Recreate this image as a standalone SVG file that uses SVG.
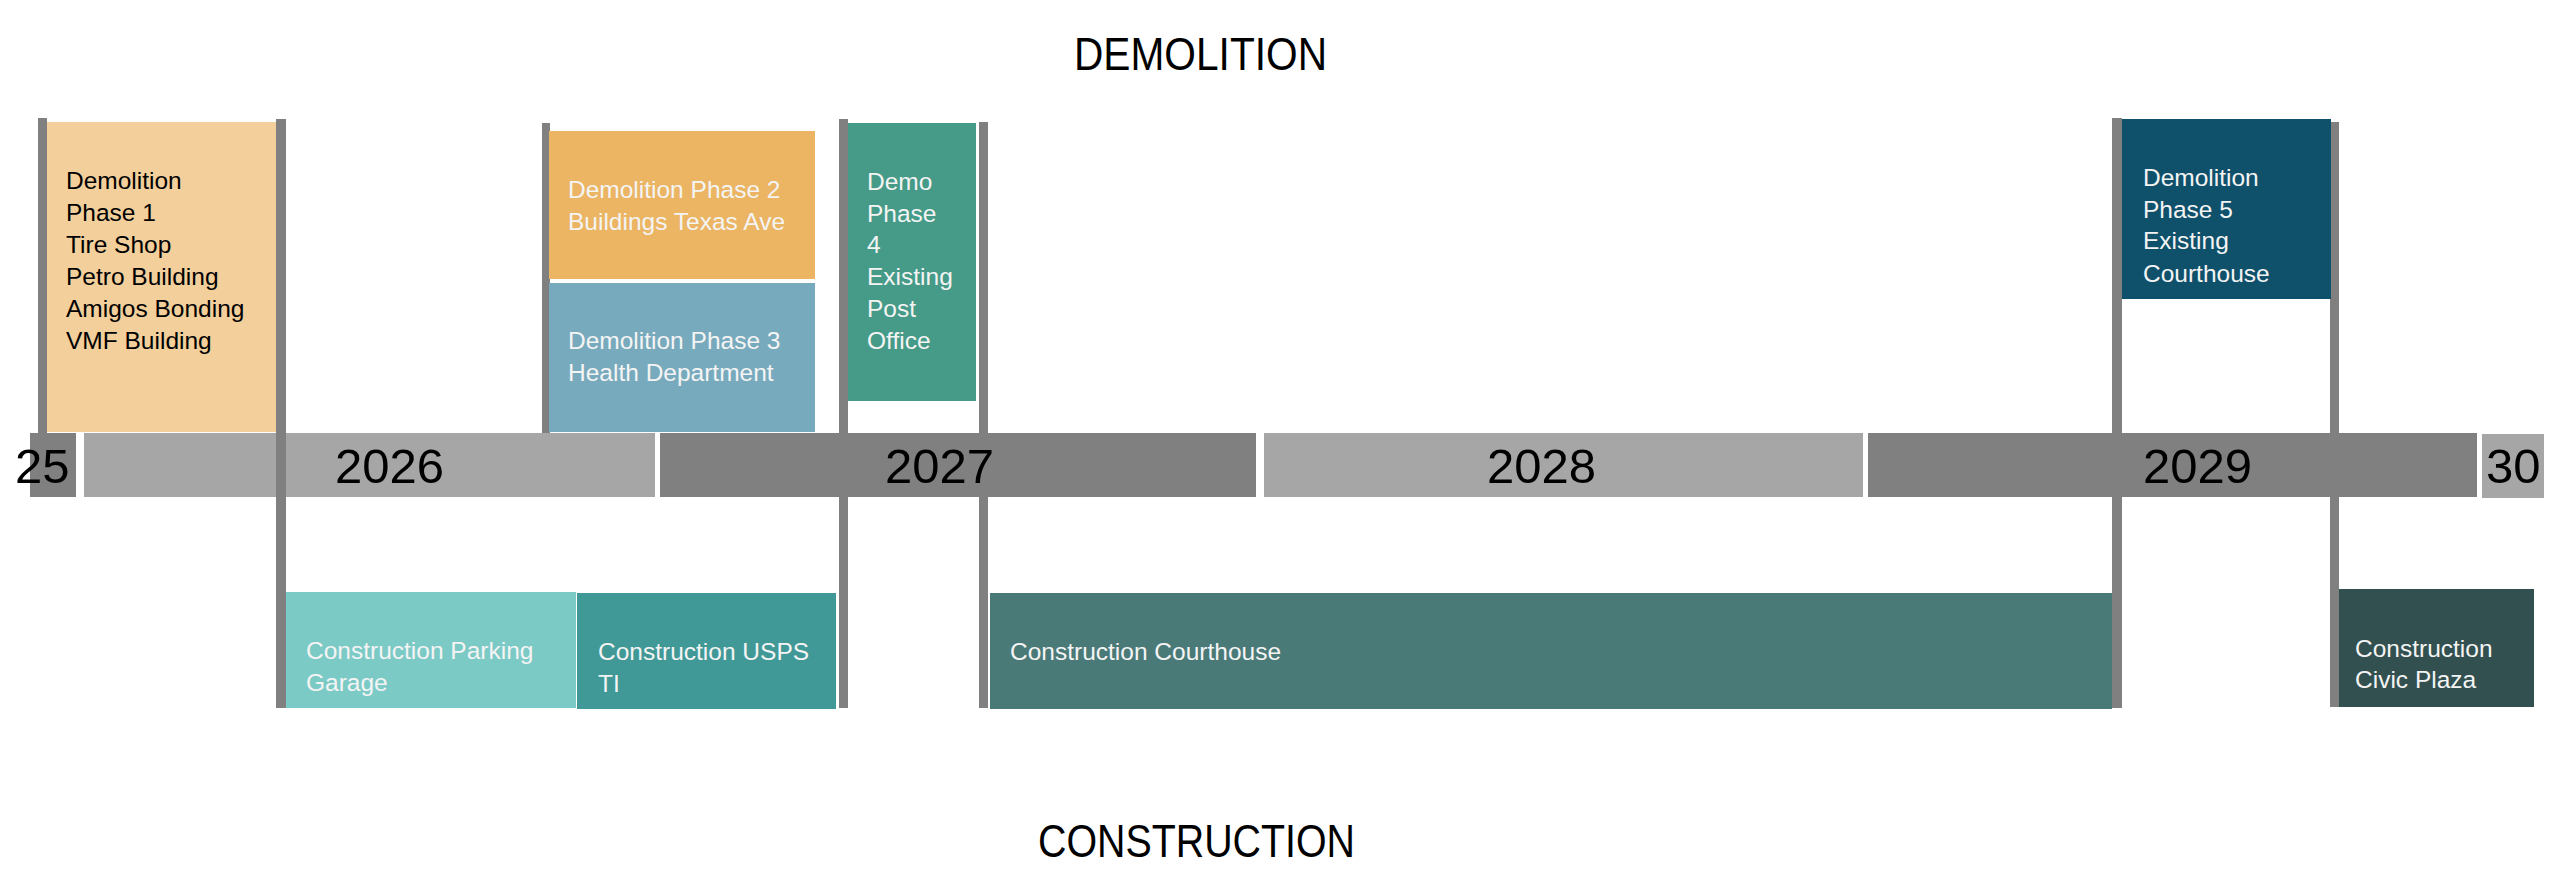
<svg xmlns="http://www.w3.org/2000/svg" width="2560" height="880" viewBox="0 0 2560 880">
<style>
text{font-family:"Liberation Sans",Arial,sans-serif}
.yr{font-size:49px;fill:#000}
.lbl{font-size:24.5px;fill:#F4F4F4}
.lblk{font-size:24.5px;fill:#000}
.ttl{font-size:46px;fill:#000}
.barL{fill:#A6A6A6}
.barD{fill:#808080}
.pole{fill:#808080}
</style>
<rect width="2560" height="880" fill="#fff"/>
<g id="title-demolition"><text class="ttl" x="1074" y="70" textLength="253" lengthAdjust="spacingAndGlyphs">DEMOLITION</text></g>
<g id="title-construction"><text class="ttl" x="1038" y="857" textLength="317" lengthAdjust="spacingAndGlyphs">CONSTRUCTION</text></g>

<g id="timeline-bars">
<rect class="barD" x="30" y="433" width="46" height="64"/>
<rect class="barL" x="84" y="433" width="571" height="64"/>
<rect class="barD" x="660" y="433" width="596" height="64"/>
<rect class="barL" x="1264" y="433" width="599" height="64"/>
<rect class="barD" x="1868" y="433" width="609" height="64"/>
<rect class="barL" x="2482" y="434" width="62" height="64"/>
</g>

<g id="connectors">
<rect class="pole" x="38" y="118" width="9" height="315"/>
<rect class="pole" x="276" y="119" width="10" height="589"/>
<rect class="pole" x="542" y="123" width="8" height="310"/>
<rect class="pole" x="839" y="119" width="9" height="589"/>
<rect class="pole" x="979" y="122" width="9" height="586"/>
<rect class="pole" x="2112" y="118" width="10" height="590"/>
<rect class="pole" x="2330" y="122" width="9" height="585"/>
</g>

<g id="timeline-labels">
<text id="y2025" class="yr" x="15" y="483">25</text>
<text id="y2026" class="yr" x="335" y="483">2026</text>
<text id="y2027" class="yr" x="885" y="483">2027</text>
<text id="y2028" class="yr" x="1487" y="483">2028</text>
<text id="y2029" class="yr" x="2143" y="483">2029</text>
<text id="y2030" class="yr" x="2486" y="483">30</text>
</g>

<g id="demo-phase1">
<rect x="47" y="122" width="229" height="310" fill="#F2CF9B"/>
<text class="lblk"><tspan x="66" y="189">Demolition</tspan><tspan x="66" y="221">Phase 1</tspan><tspan x="66" y="253">Tire Shop</tspan><tspan x="66" y="285">Petro Building</tspan><tspan x="66" y="317">Amigos Bonding</tspan><tspan x="66" y="349">VMF Building</tspan></text>
</g>
<g id="demo-phase2">
<rect x="549" y="131" width="266" height="148" fill="#EBB563"/>
<text class="lbl"><tspan x="568" y="198">Demolition Phase 2</tspan><tspan x="568" y="230">Buildings Texas Ave</tspan></text>
</g>
<g id="demo-phase3">
<rect x="549" y="283" width="266" height="149" fill="#78AABD"/>
<text class="lbl"><tspan x="568" y="349">Demolition Phase 3</tspan><tspan x="568" y="381">Health Department</tspan></text>
</g>
<g id="demo-phase4">
<rect x="848" y="123" width="128" height="278" fill="#459B87"/>
<text class="lbl"><tspan x="867" y="190">Demo</tspan><tspan x="867" y="222">Phase</tspan><tspan x="867" y="253">4</tspan><tspan x="867" y="285">Existing</tspan><tspan x="867" y="317">Post</tspan><tspan x="867" y="349">Office</tspan></text>
</g>
<g id="demo-phase5">
<rect x="2122" y="119" width="209" height="180" fill="#0F506B"/>
<text class="lbl"><tspan x="2143" y="186">Demolition</tspan><tspan x="2143" y="218">Phase 5</tspan><tspan x="2143" y="249">Existing</tspan><tspan x="2143" y="282">Courthouse</tspan></text>
</g>

<g id="const-parking">
<rect x="286" y="592" width="290" height="116" fill="#7CCAC6"/>
<text class="lbl"><tspan x="306" y="659">Construction Parking</tspan><tspan x="306" y="691">Garage</tspan></text>
</g>
<g id="const-usps">
<rect x="577" y="593" width="259" height="116" fill="#419997"/>
<text class="lbl"><tspan x="598" y="660">Construction USPS</tspan><tspan x="598" y="692">TI</tspan></text>
</g>
<g id="const-courthouse">
<rect x="990" y="593" width="1122" height="116" fill="#4A7A78"/>
<text class="lbl" x="1010" y="660">Construction Courthouse</text>
</g>
<g id="const-civic">
<rect x="2339" y="589" width="195" height="118" fill="#32504F"/>
<text class="lbl"><tspan x="2355" y="657">Construction</tspan><tspan x="2355" y="688">Civic Plaza</tspan></text>
</g>
</svg>
